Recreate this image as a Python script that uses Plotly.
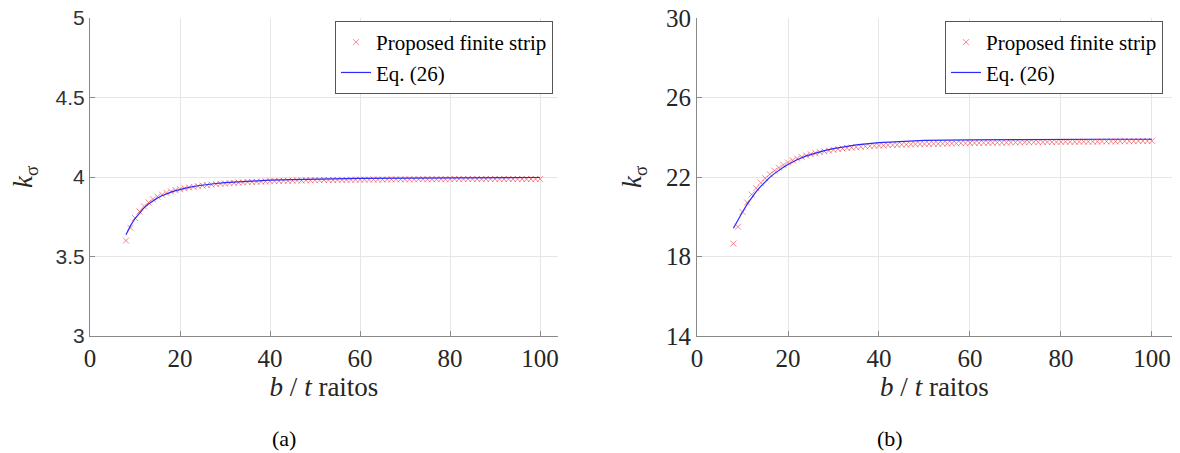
import plotly.graph_objects as go

# ---------------- data ----------------
bt_fsm = list(range(8, 101))  # b/t ratios of finite strip results

k_fsm_a = [3.600, 3.680, 3.742, 3.783, 3.815, 3.840, 3.860, 3.876, 3.889, 3.900,
           3.909, 3.917, 3.923, 3.929, 3.934, 3.938, 3.942, 3.946, 3.949, 3.952,
           3.955, 3.957, 3.959, 3.961, 3.963, 3.965, 3.966, 3.968, 3.969, 3.970,
           3.971, 3.972, 3.973,
           3.974, 3.975, 3.976, 3.976, 3.977, 3.978, 3.978, 3.979, 3.979, 3.980,
           3.980, 3.981, 3.981, 3.981, 3.982, 3.982, 3.982, 3.983, 3.983, 3.983,
           3.983, 3.984, 3.984, 3.984, 3.984, 3.984, 3.985, 3.985, 3.985, 3.985,
           3.985, 3.985, 3.986, 3.986, 3.986, 3.986, 3.986, 3.986, 3.986, 3.986,
           3.987, 3.987, 3.987, 3.987, 3.987, 3.987, 3.987, 3.987, 3.987, 3.987,
           3.987, 3.987, 3.987, 3.987, 3.987, 3.987, 3.987, 3.987, 3.987, 3.987]

k_fsm_b = [18.65, 19.50, 20.24, 20.72, 21.12, 21.44, 21.71, 21.94, 22.14, 22.32,
           22.47, 22.61, 22.73, 22.84, 22.93, 23.01, 23.08, 23.14, 23.20, 23.25,
           23.29, 23.33, 23.37, 23.40, 23.43, 23.46, 23.48, 23.50, 23.52, 23.54,
           23.55, 23.57, 23.58,
           23.59, 23.60, 23.61, 23.62, 23.63, 23.63, 23.64, 23.65, 23.65, 23.66,
           23.66, 23.67, 23.67, 23.68, 23.68, 23.69, 23.69, 23.70, 23.70, 23.71,
           23.71, 23.71, 23.72, 23.72, 23.72, 23.73, 23.73, 23.73, 23.74, 23.74,
           23.74, 23.75, 23.75, 23.75, 23.75, 23.76, 23.76, 23.76, 23.76, 23.77,
           23.77, 23.77, 23.77, 23.78, 23.78, 23.78, 23.78, 23.78, 23.79, 23.79,
           23.79, 23.79, 23.80, 23.80, 23.80, 23.80, 23.81, 23.81, 23.81, 23.82]

bt_eq = [8, 9, 10, 11, 12, 13, 14, 15, 16, 17, 18, 19, 20, 22, 24, 26, 28, 30,
         35, 40, 45, 50, 60, 70, 80, 90, 100]
k_eq_a = [3.637, 3.694, 3.739, 3.776, 3.806, 3.830, 3.851, 3.868, 3.882, 3.895,
          3.905, 3.914, 3.922, 3.935, 3.945, 3.953, 3.959, 3.964, 3.973, 3.980,
          3.984, 3.987, 3.991, 3.993, 3.995, 3.996, 3.997]
k_eq_b = [19.42, 19.85, 20.24, 20.62, 20.96, 21.26, 21.53, 21.77, 21.98, 22.17,
          22.34, 22.49, 22.63, 22.87, 23.06, 23.21, 23.33, 23.43, 23.62, 23.73,
          23.80, 23.84, 23.87, 23.89, 23.89, 23.90, 23.90]

x_ticks = [0, 20, 40, 60, 80, 100]
y_ticks_a = [3, 3.5, 4, 4.5, 5]
y_ticks_b = [14, 18, 22, 26, 30]

name_fsm = "Proposed finite strip"
name_eq = "Eq. (26)"

# ---------------- styles ----------------
W, H = 1180, 453
SERIF = "Liberation Serif, Times New Roman, serif"
SANS = "Liberation Sans, Arial, sans-serif"
mk = dict(symbol="x-thin", size=6, line=dict(width=1, color="rgba(240,60,70,0.6)"),
          color="rgba(240,60,70,0.6)")
ln = dict(color="#2a2aff", width=1.2)

fig = go.Figure()
fig.add_trace(go.Scatter(x=bt_fsm, y=k_fsm_a, mode="markers", marker=mk, name=name_fsm,
                         xaxis="x", yaxis="y", legend="legend"))
fig.add_trace(go.Scatter(x=bt_eq, y=k_eq_a, mode="lines", line=ln, name=name_eq,
                         xaxis="x", yaxis="y", legend="legend"))
fig.add_trace(go.Scatter(x=bt_fsm, y=k_fsm_b, mode="markers", marker=mk, name=name_fsm,
                         xaxis="x2", yaxis="y2", legend="legend2"))
fig.add_trace(go.Scatter(x=bt_eq, y=k_eq_b, mode="lines", line=ln, name=name_eq,
                         xaxis="x2", yaxis="y2", legend="legend2"))

ydom = [117 / H, 435 / H]
common_x = dict(showline=True, linecolor="#8a8a8a", linewidth=1, ticks="inside", ticklen=5,
                tickcolor="#8a8a8a", showgrid=True, gridcolor="#e6e6e6", gridwidth=1,
                zeroline=False, tickvals=x_ticks, automargin=False,
                tickfont=dict(family=SERIF, size=25, color="#262626"),
                title=dict(text="<i>b</i> / <i>t</i> raitos",
                           font=dict(family=SERIF, size=27, color="#262626"), standoff=6))
common_y = dict(showline=True, linecolor="#8a8a8a", linewidth=1, ticks="inside", ticklen=5,
                tickcolor="#8a8a8a", showgrid=True, gridcolor="#e6e6e6", gridwidth=1,
                zeroline=False, automargin=False)

leg_common = dict(xanchor="right", yanchor="top", bgcolor="white", bordercolor="#555555",
                  borderwidth=1, font=dict(family=SERIF, size=21, color="black"),
                  itemwidth=30, tracegroupgap=0)

fig.update_layout(
    template="none",
    width=W, height=H, margin=dict(l=0, r=0, t=0, b=0, autoexpand=False),
    paper_bgcolor="white", plot_bgcolor="white",
    xaxis=dict(domain=[90 / W, 558 / W], range=[0, 104], anchor="y", **common_x),
    yaxis=dict(domain=ydom, range=[3, 5], anchor="x", tickvals=y_ticks_a,
               ticktext=["3", "3.5", "4", "4.5", "5"],
               tickfont=dict(family=SANS, size=21, color="#333333"), **common_y),
    xaxis2=dict(domain=[697 / W, 1172 / W], range=[0, 104.4], anchor="y2", **common_x),
    yaxis2=dict(domain=ydom, range=[14, 30], anchor="x2", tickvals=y_ticks_b,
                tickfont=dict(family=SERIF, size=25, color="#262626"), **common_y),
    legend=dict(x=553 / W, y=1 - 21 / H, **leg_common),
    legend2=dict(x=1163 / W, y=1 - 21 / H, **leg_common),
    showlegend=True,
)

ann_font = dict(family=SERIF, size=27, color="#262626")
fig.add_annotation(text="<i>k</i><sub>σ</sub>", x=25 / W, y=1 - 177 / H, xref="paper",
                   yref="paper", xanchor="center", yanchor="middle", showarrow=False,
                   textangle=-90, font=ann_font)
fig.add_annotation(text="<i>k</i><sub>σ</sub>", x=634 / W, y=1 - 177 / H, xref="paper",
                   yref="paper", xanchor="center", yanchor="middle", showarrow=False,
                   textangle=-90, font=ann_font)
cap_font = dict(family=SERIF, size=22, color="black")
fig.add_annotation(text="(a)", x=284 / W, y=1 - 438 / H, xref="paper", yref="paper",
                   xanchor="center", yanchor="middle", showarrow=False, font=cap_font)
fig.add_annotation(text="(b)", x=890 / W, y=1 - 438 / H, xref="paper", yref="paper",
                   xanchor="center", yanchor="middle", showarrow=False, font=cap_font)

fig.write_html("out.html", config={"displayModeBar": False},
               post_script="document.body.style.margin='0';document.body.style.padding='0';")
